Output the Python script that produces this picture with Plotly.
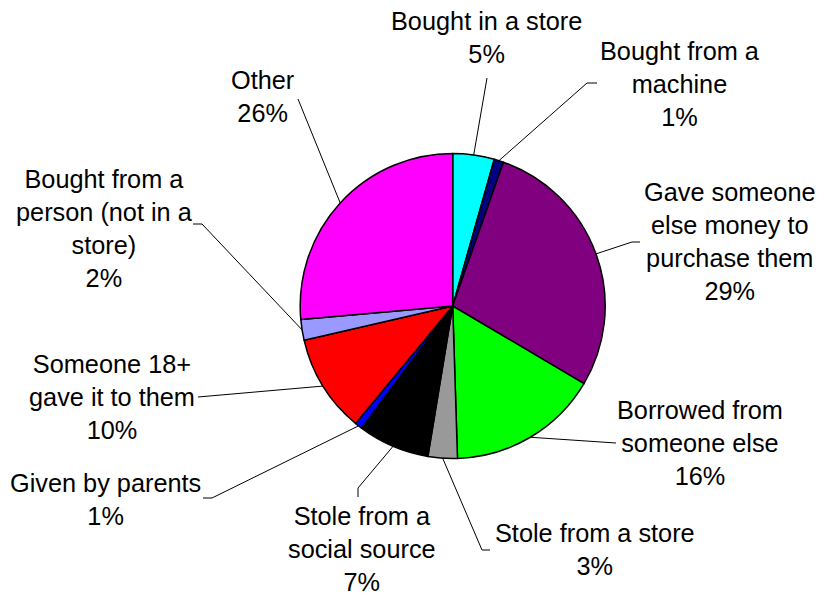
import math
import plotly.graph_objects as go

# ---- data ----
categories = [
    "Bought in a store", "Bought from a machine", "Gave someone else money to purchase them",
    "Borrowed from someone else", "Stole from a store", "Stole from a social source",
    "Given by parents", "Someone 18+ gave it to them", "Bought from a person (not in a store)", "Other",
]
shares = [4.4, 1.0, 28.1, 16.0, 3.1, 7.6, 0.8, 10.4, 2.2, 26.4]
pct_labels = ["5%", "1%", "29%", "16%", "3%", "7%", "1%", "10%", "2%", "26%"]
label_text = [
    "Bought in a store", "Bought from a<br>machine", "Gave someone<br>else money to<br>purchase them",
    "Borrowed from<br>someone else", "Stole from a store", "Stole from a<br>social source",
    "Given by parents", "Someone 18+<br>gave it to them", "Bought from a<br>person (not in a<br>store)", "Other",
]
colors = ["#00FFFF", "#000080", "#800080", "#00FF00", "#999999",
          "#000000", "#0000FF", "#FF0000", "#9999FF", "#FF00FF"]

# ---- layout (pixel space) ----
W, H = 817, 595
CX, CY, R = 452.7, 306.0, 152.5
# label centres and leader line bend/stub points (pixels)
label_pos = [(486, 37), (680, 84), (730, 241), (700, 443), (595, 549),
             (362, 549), (105, 499), (112, 397), (104, 228), (262, 96)]
leader_pts = [
    [(487, 78)],
    [(587, 83), (597, 83)],
    [(632, 242), (640, 242)],
    [(612, 443), (616, 443)],
    [(482, 550), (490, 550)],
    [(358, 488), (358, 497)],
    [(212, 498), (203, 498)],
    [(198, 397)],
    [(202, 224), (193, 224)],
    [(298, 99)],
]

FONT = "Liberation Sans, Arial, sans-serif"
FS = 25.3

fig = go.Figure()
fig.add_trace(go.Pie(
    labels=categories, values=shares, sort=False, direction="clockwise", rotation=0,
    marker=dict(colors=colors, line=dict(color="black", width=1.5)),
    textinfo="none", hoverinfo="label+percent", showlegend=False,
    domain=dict(x=[(CX - R) / W, (CX + R) / W], y=[1 - (CY + R) / H, 1 - (CY - R) / H]),
))

total = sum(shares)
cum = 0.0
for i, v in enumerate(shares):
    mid = (cum + v / 2) / total * 2 * math.pi
    cum += v
    ex = CX + R * math.sin(mid)
    ey = CY - R * math.cos(mid)
    xs = [ex] + [p[0] for p in leader_pts[i]]
    ys = [ey] + [p[1] for p in leader_pts[i]]
    fig.add_trace(go.Scatter(x=xs, y=ys, mode="lines", line=dict(color="black", width=1),
                             hoverinfo="skip", showlegend=False, xaxis="x", yaxis="y"))
    lx, ly = label_pos[i]
    fig.add_annotation(x=lx, y=ly, xref="x", yref="y", text=label_text[i] + "<br>" + pct_labels[i],
                       showarrow=False, xanchor="center", yanchor="middle", align="center",
                       font=dict(family=FONT, size=FS, color="black"))

fig.update_layout(
    width=W, height=H, margin=dict(l=0, r=0, t=0, b=0),
    paper_bgcolor="white", plot_bgcolor="rgba(0,0,0,0)",
    xaxis=dict(range=[0, W], visible=False, fixedrange=True, domain=[0, 1]),
    yaxis=dict(range=[H, 0], visible=False, fixedrange=True, domain=[0, 1]),
    font=dict(family=FONT),
)
fig.write_html("out.html", config=dict(displayModeBar=False),
               post_script="document.body.style.margin='0';document.body.style.padding='0';")
